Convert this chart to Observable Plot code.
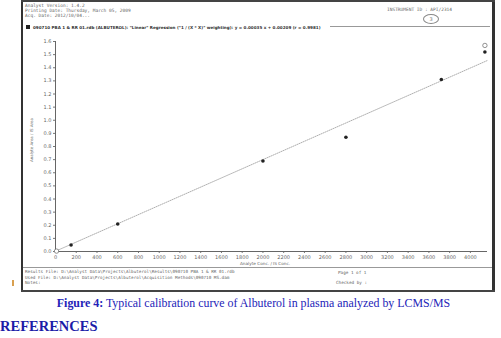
<!DOCTYPE html>
<html><head><meta charset="utf-8">
<script src="https://cdn.jsdelivr.net/npm/d3@7"></script>
<script src="https://cdn.jsdelivr.net/npm/@observablehq/plot@0.6"></script>
<style>
html,body{margin:0;padding:0;background:#fff;}
#page{position:relative;width:501px;height:338px;overflow:hidden;background:#fff;}
.abs{position:absolute;white-space:nowrap;}
.mono{font-family:"DejaVu Sans Mono",monospace;color:#666;}
.sm{font-family:"DejaVu Sans",sans-serif;color:#666;}
#chart{position:absolute;left:22px;top:30px;}
</style></head>
<body><div id="page">
  <div class="abs" style="left:21px;top:0;width:2px;height:292px;background:#333"></div>
  <div class="abs" style="left:492px;top:0;width:3px;height:292px;background:#333"></div>
  <div class="abs" style="left:21px;top:0;width:474px;height:2px;background:#444"></div>
  <div class="abs" style="left:21px;top:290px;width:474px;height:2px;background:#444"></div>
  <div class="abs mono" style="left:25px;top:3px;font-size:4.5px;line-height:5px">Analyst Version: 1.4.2<br>Printing Date: Thursday, March 05, 2009<br>Acq. Date: 2012/10/04...</div>
  <div class="abs mono" style="left:387px;top:7px;font-size:4.5px">INSTRUMENT ID : API/2314</div>
  <div class="abs" style="left:423px;top:14px;width:14px;height:8px;border:1px solid #888;border-radius:50%;font:5px 'DejaVu Sans';color:#777;text-align:center;line-height:8px">3</div>
  <div class="abs" style="left:26px;top:25px;width:4px;height:4px;background:#222"></div>
  <div class="abs sm" style="left:33px;top:24.5px;font-size:4.1px;color:#333;font-weight:bold">090710 PBA 1 &amp; RR 01.rdb (ALBUTEROL): "Linear" Regression ("1 / (X * X)" weighting): y = 0.00035 x + 0.00209 (r = 0.9981)</div>
  <div class="abs" style="left:330px;top:26px;width:160px;height:1px;background:#999"></div>
  <div id="chart"></div>
  <div class="abs sm" id="ylab" style="left:10px;top:140px;font-size:4px;transform:translate(0,-50%) rotate(-90deg);transform-origin:center;">Analyte Area / IS Area</div>
  <div class="abs sm" style="left:240px;top:261px;font-size:4.2px">Analyte Conc. / IS Conc.</div>
  <div class="abs" style="left:23px;top:267px;width:469px;height:1px;background:#999"></div>
  <div class="abs mono" style="left:25px;top:269px;font-size:4.3px;line-height:5.5px">Results File: D:\Analyst Data\Projects\Albuterol\Results\090710 PBA 1 &amp; RR 01.rdb<br>Used File: D:\Analyst Data\Projects\Albuterol\Acquisition Methods\090710 MS.dam<br>Notes:</div>
  <div class="abs mono" style="left:338px;top:270px;font-size:4.3px">Page 1 of 1</div>
  <div class="abs mono" style="left:336px;top:280px;font-size:4.3px">Checked by :</div>
  <div class="abs" style="left:12px;top:280px;width:2px;height:6px;background:#d9a050"></div>
  <div class="abs" style="left:0;top:296px;width:501px;text-align:center;font-family:'Liberation Serif',serif;font-size:11.9px;color:#2323b8;padding-left:6px;box-sizing:border-box"><b>Figure 4:</b> Typical calibration curve of Albuterol in plasma analyzed by LCMS/MS</div>
  <div class="abs" style="left:0;top:318px;font-family:'Liberation Serif',serif;font-size:14.5px;font-weight:bold;color:#1c1ca8">REFERENCES</div>
</div>
<script>
const conc = [150, 600, 2000, 2800, 3720, 4140];
const ratio = [0.05, 0.21, 0.69, 0.87, 1.31, 1.52];
const exclConc = [10, 4140];
const exclRatio = [0.003, 1.57];
const slope = 0.000349;
const intercept = 0.00209;
const lineX = [0, 4160];
const xTicks = d3.range(0, 4001, 200);
const yTicks = d3.range(0, 17).map(i => i / 10);

const used = conc.map((c, i) => ({c, r: ratio[i]}));
const excl = exclConc.map((c, i) => ({c, r: exclRatio[i]}));
const reg = lineX.map(c => ({c, r: slope * c + intercept}));

const chart = Plot.plot({
  width: 470, height: 240,
  marginLeft: 33, marginRight: 5, marginTop: 11, marginBottom: 19,
  style: {fontSize: "5px", fontFamily: "DejaVu Sans", color: "#666", background: "transparent", overflow: "visible"},
  x: {domain: [0, 4165]},
  y: {domain: [0, 1.6]},
  marks: [
    Plot.axisX({ticks: xTicks, tickFormat: d => String(d), tickSize: 2, tickPadding: 2, label: null, stroke: "#777"}),
    Plot.axisY({ticks: yTicks, tickFormat: d3.format(".1f"), tickSize: 2, tickPadding: 2, label: null, stroke: "#777"}),
    Plot.ruleX([0], {stroke: "#666"}),
    Plot.ruleY([0], {stroke: "#666"}),
    Plot.line(reg, {x: "c", y: "r", stroke: "#999", strokeWidth: 0.8, strokeDasharray: "1,1.2"}),
    Plot.dot(used, {x: "c", y: "r", r: 1.8, fill: "#222", stroke: "none"}),
    Plot.dot(excl, {x: "c", y: "r", r: 2.2, fill: "white", stroke: "#666", strokeWidth: 0.7})
  ]
});
document.getElementById("chart").appendChild(chart);
</script>
</body></html>
